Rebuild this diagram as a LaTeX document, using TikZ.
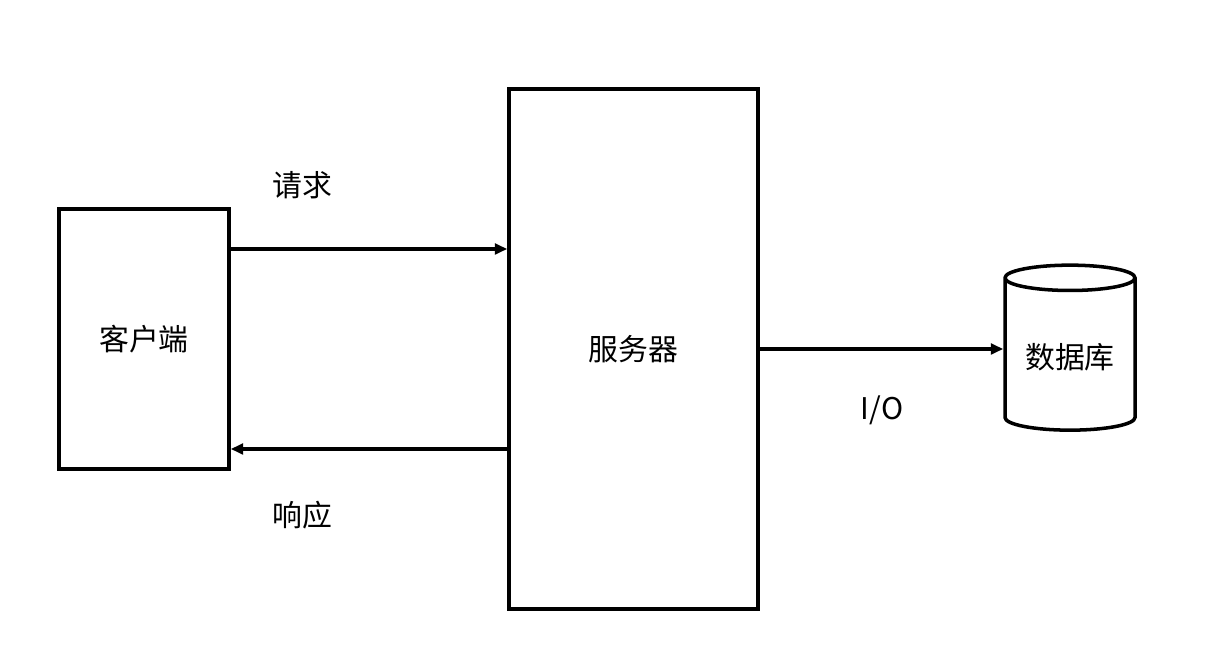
\documentclass[tikz,border=0pt]{standalone}
\usepackage{fontspec}
\setmainfont{Noto Sans CJK SC}
\usepackage{tikz}
\usetikzlibrary{positioning,arrows.meta,shapes.geometric}

\begin{document}
\begin{tikzpicture}[>={Triangle[length=7pt,width=6pt]},
    block/.style={rectangle, draw, line width=2pt, align=center, font=\fontsize{17}{20}\selectfont},
    db/.style={cylinder, shape border rotate=90, aspect=0.25, draw, line width=2pt, font=\fontsize{17}{20}\selectfont},
    lbl/.style={font=\fontsize{17}{20}\selectfont},
    link/.style={->, line width=2pt}]

\useasboundingbox (0,0) rectangle (24.16,13.4);

\node[block, minimum width=3.4cm, minimum height=5.2cm] (client) at (2.88,6.62) {客户端};
\node[block, minimum width=4.98cm, minimum height=10.4cm] (server) at (12.67,6.42) {服务器};
\node[db, minimum width=2.6cm, minimum height=3.3cm] (data) at (21.4,6.25) {数据库};

\coordinate (reqa) at (client.east |- 0,8.42);
\coordinate (reqb) at (server.west |- 0,8.42);
\coordinate (resa) at (server.west |- 0,4.42);
\coordinate (resb) at (client.east |- 0,4.42);

\draw[link] (reqa) -- (reqb);
\draw[link] (resa) -- (resb);
\draw[link] (server.east) -- (data.west |- server.east);

\node[lbl] (req) at (6.04,9.7) {请求};
\node[lbl] (res) at (6.04,3.1) {响应};
\node[lbl] (io) at (17.64,5.2) {I/O};

\end{tikzpicture}
\end{document}
